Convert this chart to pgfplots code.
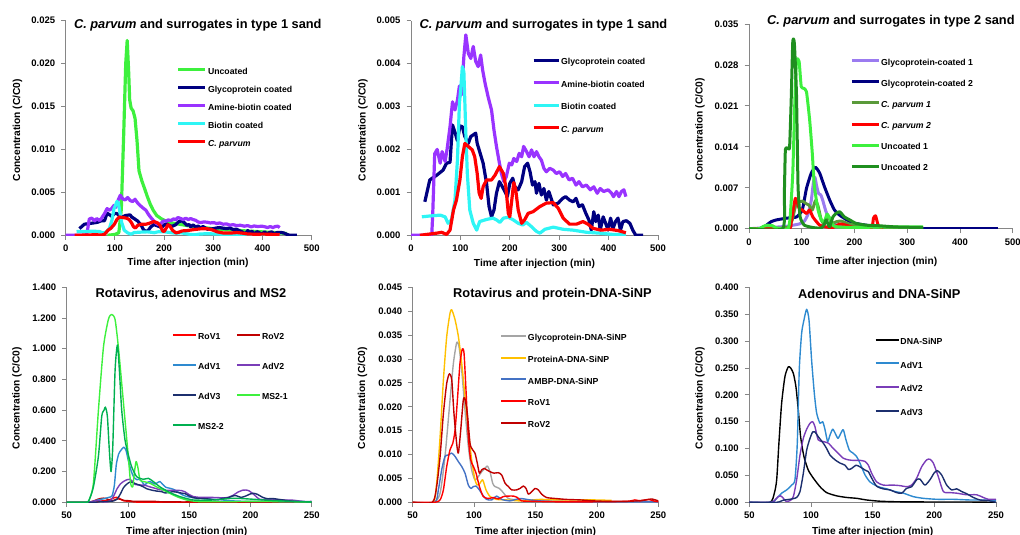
\documentclass[border=0pt]{standalone}
\usepackage{pgfplots}
\pgfplotsset{compat=1.18}
\usepackage{pgfplotstable}
\usepackage{fontspec}
\setmainfont{Liberation Sans}

\definecolor{axgray}{HTML}{868686}
\definecolor{ucgreen}{HTML}{3DF03D}
\definecolor{navy1}{HTML}{000080}
\definecolor{amine}{HTML}{9933FF}
\definecolor{biotin}{HTML}{2EF5F5}
\definecolor{lilac}{HTML}{9B7BF0}
\definecolor{olive1}{HTML}{5A9A3A}
\definecolor{dkgreen}{HTML}{1F8F1F}
\definecolor{rov2}{HTML}{C00000}
\definecolor{adv1}{HTML}{2E8AD0}
\definecolor{adv2}{HTML}{7A3DB8}
\definecolor{adv3}{HTML}{1C2F6E}
\definecolor{ms2two}{HTML}{00B050}
\definecolor{glygray}{HTML}{A5A5A5}
\definecolor{protA}{HTML}{FFC000}
\definecolor{ambp}{HTML}{4472C4}

% ---------- type 1 sand ----------
\pgfplotstableread{
t c
85 0
100 0.0001
108 0.0003
113 0.003
118 0.012
122 0.020
125 0.0227
128 0.019
130 0.0158
133 0.0148
137 0.0145
141 0.0136
145 0.011
149 0.0075
155 0.0063
160 0.0055
166 0.0045
172 0.0036
178 0.0029
185 0.0023
195 0.0019
210 0.0015
230 0.0013
250 0.0011
280 0.0009
310 0.0007
340 0.0006
370 0.0005
400 0.0004
430 0.0003
450 0.0002
}\uncoated
\pgfplotstableread{
t c
28 0.00078
38 0.00129
52 0.0014
65 0.00152
72 0.00168
79 0.0017
84 0.00257
89 0.0024
94 0.0022
99 0.00255
104 0.00253
109 0.0023
116 0.00214
121 0.0023
126 0.00234
131 0.00238
134 0.00214
139 0.00195
146 0.00168
153 0.00121
158 0.00067
163 0.00043
168 0.00059
173 0.00098
179 0.00125
185 0.00113
190 0.00102
195 0.0009
200 0.00121
206 0.00133
210 0.00113
217 0.00106
224 0.00125
230 0.0016
236 0.00168
241 0.00148
246 0.00117
251 0.00125
254 0.00098
259 0.00121
264 0.00094
269 0.00109
274 0.00082
279 0.00102
288 0.00071
298 0.00075
307 0.00086
313 0.0009
321 0.00082
328 0.00078
334 0.00086
340 0.00067
347 0.00071
354 0.00051
360 0.00036
365 0.00012
370 0.00055
374 0.00032
379 0.00047
383 0.00012
389 0.00043
394 0.00028
399 0.00012
404 0.0004
409 0.00016
414 0.00032
419 0.0004
424 0.00012
429 0.00032
436 0.00034
443 0.00028
449 0.00012
455 0
470 0
}\glyco
\pgfplotstableread{
t c
0 0
42 0
44 0.0005
48 0.0019
53 0.002
59 0.00168
63 0.00195
69 0.00172
73 0.002
79 0.00253
84 0.00311
89 0.00292
94 0.00315
98 0.00348
102 0.00327
107 0.00416
111 0.00467
116 0.00424
121 0.00412
126 0.0044
131 0.00405
136 0.00393
141 0.0042
145 0.00385
150 0.00354
156 0.00323
163 0.00292
168 0.00245
173 0.00207
179 0.00168
183 0.00144
188 0.00125
193 0.00137
199 0.00168
204 0.00164
208 0.00179
214 0.00172
219 0.00191
224 0.00183
228 0.00207
234 0.00195
239 0.00183
244 0.00199
249 0.00183
254 0.00195
259 0.00183
264 0.00175
269 0.00156
274 0.00148
281 0.00156
288 0.00152
294 0.00144
301 0.00148
307 0.00137
313 0.00144
320 0.00129
327 0.00133
334 0.00117
340 0.00125
347 0.00113
355 0.00117
363 0.00106
370 0.00113
377 0.00098
383 0.00109
390 0.00102
399 0.00106
406 0.00098
410 0.0009
416 0.00102
421 0.0009
426 0.00102
431 0.00106
435 0.0009
}\amine
\pgfplotstableread{
t c
22 0.00043
38 0.00045
59 0.00047
69 0.00043
75 0.00028
82 0.00036
89 0.00082
94 0.00175
98 0.00307
101 0.00346
104 0.00393
107 0.00381
111 0.00238
114 0.00144
119 0.00059
126 0.00028
133 0.00012
139 0.00032
153 0.00037
166 0.0004
173 0.00036
180 0.0003
187 0.0004
197 0.00042
207 0.00036
217 0.00028
226 0.00024
234 0.0003
244 0.0002
254 0.00009
261 0.00005
271 0.00014
288 0.00019
308 0.00014
328 0.00012
355 0.00007
382 0.00005
409 0.00002
435 0.00002
}\biotin
\pgfplotstableread{
t c
18 0
52 0.00005
62 0.00007
72 0.00002
79 0.00012
86 0.00059
92 0.00082
99 0.00129
104 0.00183
109 0.00214
116 0.00207
124 0.00199
129 0.00183
134 0.00144
138 0.00098
142 0.00086
146 0.00113
153 0.00129
163 0.00129
170 0.0014
179 0.0016
187 0.00144
192 0.00113
197 0.00051
200 0.00043
204 0.00082
208 0.00123
212 0.00106
217 0.00059
224 0.00028
230 0.00036
237 0.00051
247 0.00055
261 0.00067
274 0.00075
288 0.00076
298 0.00063
308 0.0004
321 0.00026
335 0.00026
348 0.00032
358 0.00026
369 0.00016
385 0.00012
402 0.00014
419 0.00011
435 0.00006
}\cparv

% ---------- type 2 sand ----------
\pgfplotstableread{
t c
0 0
40 0.0002
70 0.0004
95 0.0008
105 0.0013
112 0.0025
118 0.0048
122 0.0078
125 0.0088
128 0.0074
132 0.006
136 0.0058
140 0.0048
145 0.0032
150 0.002
158 0.001
170 0.0005
200 0.0003
240 0.0001
270 0
}\gcone
\pgfplotstableread{
t c
20 0
30 0.0004
42 0.0012
52 0.0015
71 0.0018
90 0.002
101 0.0032
109 0.0069
118 0.0095
126 0.0105
134 0.0095
143 0.0072
153 0.0049
162 0.0032
172 0.0023
184 0.0016
197 0.001
222 0.0006
247 0.0003
273 0.0001
300 0
472 0
}\gctwo
\pgfplotstableread{
t c
0 0
60 0.0001
75 0.0003
82 0.0015
88 0.0038
95 0.0046
102 0.0047
108 0.0043
114 0.004
120 0.0032
126 0.0048
131 0.0038
137 0.0015
143 0.0008
150 0.0022
156 0.0009
166 0.0012
175 0.0013
190 0.0008
210 0.0005
250 0.0002
300 0.0001
330 0.0001
}\cpone
\pgfplotstableread{
t c
0 0
75 0
80 0.0012
88 0.0052
95 0.0035
101 0.0032
109 0.0026
115 0.0032
121 0.002
128 0.0012
134 0.0006
146 0.0003
159 0.0002
172 0.0008
184 0.0006
203 0.0001
232 0.0001
236 0.0018
240 0.0022
245 0.0006
254 0
}\cptwo
\pgfplotstableread{
t c
0 0
20 0
27 0.0004
35 0.0006
45 0.0005
52 0.0001
74 0
78 0.002
83 0.0095
87 0.022
90 0.0288
95 0.0286
99 0.0243
104 0.024
109 0.0234
115 0.0186
120 0.0129
124 0.0072
131 0.0032
137 0.0015
143 0.0012
148 0.0025
153 0.0018
160 0.0005
170 0.0003
200 0.0002
260 0.0003
330 0.0003
}\ucone
\pgfplotstableread{
t c
0 0
64 0
67 0.006
69 0.0135
74 0.0137
77 0.014
80 0.022
83 0.032
86 0.0317
90 0.0231
93 0.0072
97 0.002
105 0.0006
121 0.0002
137 0.0001
143 0.0008
146 0.0015
150 0.0008
153 0.0003
159 0.002
165 0.0026
172 0.0029
181 0.002
191 0.0015
203 0.0009
222 0.0006
247 0.0005
279 0.0003
330 0.0002
}\uctwo

% ---------- viruses ----------
\pgfplotstableread{
t c
50 0
68 0
72.3 0.0005
75 0.0026
77.7 0.0075
80.4 0.011
82.6 0.0123
84.5 0.0151
86.4 0.0214
88.5 0.0291
90.4 0.0321
91.8 0.0312
93.4 0.0235
95.3 0.0137
97.2 0.0089
99.4 0.0075
101.6 0.0061
104.3 0.0033
107.5 0.0012
111.6 0.0008
115.7 0.001
119.7 0.0007
123.8 0.0012
127.9 0.0013
132 0.0013
135.2 0.001
138.7 0.0003
148.2 0.0002
167.2 0.0001
194.4 0.0001
224.2 0.0002
231 0.0005
235 0.0003
241.9 0.0006
246 0.0003
250 0.0001
}\rovone
\pgfplotstableread{
t c
50 0
66 0
69.5 0.0033
72.3 0.0096
75 0.0186
77.7 0.0249
79.9 0.0269
81.8 0.0256
83.6 0.0186
85.8 0.0123
87.2 0.0103
89.1 0.0151
91.2 0.0214
92.6 0.0216
94.5 0.0186
96.7 0.0123
98.8 0.011
100.7 0.0103
102.6 0.0082
104.3 0.0061
106.2 0.0068
108.1 0.0071
110.2 0.0068
113 0.0064
116.2 0.0061
119.7 0.0062
122.5 0.0057
125.2 0.004
127.9 0.0033
130.6 0.0026
134.7 0.0026
137.4 0.0029
140.1 0.0034
142.3 0.0029
144.2 0.0017
146.9 0.0022
149.6 0.0029
152.3 0.0026
155 0.0017
159 0.001
165.9 0.0008
175.4 0.0006
186.2 0.0005
197.1 0.0003
208 0.0002
224.2 0.0002
232.4 0.0003
240.5 0.0005
244.6 0.0007
250 0.0003
}\rovtwo
\pgfplotstableread{
t c
50 0
67 0
72.3 0.0019
76.3 0.0096
80.4 0.0214
83.1 0.029
85.8 0.0334
87.7 0.0326
89.9 0.0277
92.6 0.0193
95.3 0.0117
98 0.0068
100.7 0.0047
103.5 0.0054
106.2 0.0064
108.9 0.0071
110.8 0.0076
113 0.0064
115.1 0.004
117 0.0033
120.6 0.0029
123.8 0.002
127.9 0.0008
134.7 0.0005
145.5 0.0003
159 0.0003
180.8 0.0002
208 0.0001
250 0.0001
}\glysinp
\pgfplotstableread{
t c
50 0
66.5 0
69.5 0.004
72.3 0.0137
75 0.0256
77.7 0.0347
80.4 0.0396
81.8 0.0403
84.5 0.0382
87.2 0.0347
89.9 0.0291
92.6 0.0221
95.3 0.0151
98 0.0089
100.7 0.0047
102.6 0.0036
104.8 0.004
107 0.0047
109.7 0.0026
113 0.0012
118.4 0.0006
126.5 0.0005
137.4 0.0003
153.7 0.0006
167.2 0.0005
180.8 0.0005
197 0.0005
212 0.0004
}\protsinp
\pgfplotstableread{
t c
50 0
68 0
70.9 0.0026
73.6 0.0068
76.3 0.0096
79 0.0099
81.8 0.0103
84.5 0.0096
87.2 0.0085
89.9 0.0075
92.6 0.0061
95.3 0.0036
97.5 0.0029
99.4 0.0033
101.6 0.0034
104.3 0.0026
107 0.0015
110.2 0.0006
114.3 0.0005
118.4 0.0013
122.5 0.0006
129.2 0.0003
137.4 0.0008
145.5 0.0005
159 0.0002
180.8 0.0001
208 0.0001
250 0.0001
}\ambpsinp
\pgfplotstableread{
t c
50 0
66.8 0
70.3 0.017
72.2 0.042
74 0.11
76.2 0.184
78.9 0.234
81.6 0.252
83.5 0.25
85.7 0.24
87.8 0.215
89.7 0.172
91.6 0.122
94.3 0.085
97.8 0.06
101.9 0.045
107.3 0.029
112.7 0.018
120.8 0.012
128.9 0.009
137 0.0074
145.1 0.0043
156 0.002
169.5 0.001
196.5 0.0006
223.5 0.0006
250 0
}\dnasinp
\pgfplotstableread{
t c
50 0
68 0
72.2 0.0074
76.2 0.017
80.3 0.023
84.3 0.032
87 0.042
88.9 0.11
90.5 0.246
92.4 0.314
94.3 0.339
96.5 0.359
98.4 0.339
100.5 0.265
102.7 0.203
104.6 0.166
107.3 0.147
109.5 0.15
111.4 0.135
113.5 0.113
115.4 0.125
117.6 0.136
119.7 0.128
121.9 0.119
124.1 0.128
126.2 0.135
128.4 0.116
131.1 0.097
133.8 0.092
137 0.085
139.7 0.073
143.8 0.051
147.8 0.038
151.9 0.032
155.9 0.028
161.4 0.025
168.1 0.02
174.9 0.017
183 0.0105
191.1 0.0074
201.9 0.0056
215.4 0.0056
228.9 0.0043
239.7 0.0043
250 0.003
}\advone
\pgfplotstableread{
t c
50 0
68 0
70.8 0.0043
73.5 0.0105
75.4 0.012
77.6 0.0074
79.7 0.002
83 0.003
85.7 0.0105
88.4 0.042
91.1 0.088
93.8 0.119
96.5 0.136
99.2 0.147
101.4 0.15
103.2 0.141
105.9 0.116
110 0.113
114.1 0.11
118.1 0.1
122.2 0.091
126.2 0.082
130.3 0.079
134.3 0.078
139.7 0.078
143.8 0.076
146.5 0.069
149.2 0.054
153.2 0.038
158.6 0.032
166.8 0.032
172.2 0.031
177.6 0.029
181.6 0.032
185.7 0.045
189.7 0.066
193.8 0.079
196.5 0.08
199.2 0.073
203.2 0.048
207.3 0.02
212.7 0.018
218.1 0.017
226.2 0.014
234.3 0.014
239.7 0.009
243.8 0.0056
250 0.0056
}\advtwo
\pgfplotstableread{
t c
50 0
72 0
77.6 0.004
83 0.0056
88.4 0.009
91.1 0.02
93.8 0.054
96.5 0.097
99.2 0.119
101.4 0.131
103.2 0.131
105.9 0.122
110 0.11
112.7 0.1
115.4 0.088
119.5 0.079
123.5 0.073
127.6 0.069
130.3 0.061
133 0.063
136.5 0.069
139.7 0.066
143.8 0.06
146.5 0.057
149.2 0.045
153.2 0.03
158.6 0.025
164.1 0.023
169.5 0.018
173.5 0.017
177.6 0.026
181.6 0.029
185.7 0.042
188.4 0.043
192.4 0.032
196.5 0.042
199.7 0.054
202.4 0.059
205.9 0.051
210 0.032
214.1 0.023
218.1 0.025
222.2 0.02
226.2 0.016
231.6 0.009
237 0.0043
243.8 0.003
250 0
}\advthree
\pgfplotstableread{
t c
50 0
65 0
68 0.01
71.8 0.124
75.9 0.6
80 1.01
84 1.19
86.7 1.224
89.5 1.19
92.2 1.01
94.9 0.775
97.6 0.536
100.3 0.297
102.2 0.124
103.9 0.1
105.2 0.19
106.6 0.265
108 0.232
109.9 0.145
113 0.135
118 0.124
123.5 0.1
131.6 0.069
139.8 0.037
148 0.015
158.8 0.004
180.6 0.004
202 0.006
227 0.004
250 0.002
}\msone
\pgfplotstableread{
t c
50 0
65 0
68 0.01
71.8 0.1
75.9 0.3
78.6 0.56
80.5 0.6
81.6 0.62
83.2 0.56
84.8 0.34
86.2 0.2
87.6 0.36
89.5 0.86
91.4 1.024
93 0.86
94.9 0.6
97.6 0.406
100.3 0.31
103 0.232
107.1 0.167
112.6 0.15
116.7 0.156
120.7 0.135
126.2 0.1
134.4 0.063
142.5 0.037
153.4 0.015
169.7 0.015
186 0.026
202 0.02
218.7 0.011
250 0.002
}\mstwo

\pgfplotsset{
  panel/.style={
    scale only axis, axis lines*=left,
    axis line style={draw=axgray, line width=0.8pt},
    tick align=outside, major tick length=4.5pt,
    tick style={draw=axgray, line width=0.8pt},
    enlargelimits=false, clip=true,
    scaled y ticks=false, scaled x ticks=false,
    /pgf/number format/assume math mode=true,
    tick label style={font=\bfseries\fontsize{9.5}{11}\selectfont},
    yticklabel style={/pgf/number format/.cd, fixed, fixed zerofill, precision=3, /tikz/.cd, xshift=-2.5pt},
    xticklabel style={yshift=-2pt},
    label style={font=\bfseries\fontsize{10.2}{12}\selectfont},
    xlabel={Time after injection (min)}, ylabel={Concentration (C/C0)},
    title style={font=\bfseries\fontsize{12.8}{15}\selectfont, anchor=center, yshift=-6pt},
    legend cell align=left,
    legend style={draw=none, fill=none, anchor=north west, inner sep=0pt,
      font=\bfseries\fontsize{8.7}{10}\selectfont,
      cells={anchor=west},
      nodes={inner xsep=1pt, inner ysep=0pt, text height=6.5pt, text depth=2pt}},
    every axis plot/.append style={line join=round},
  },
  thickp/.style={every axis plot/.append style={line width=3.2pt}},
  thinp/.style={every axis plot/.append style={line width=1.4pt, smooth, tension=0.4}},
}

\begin{document}
\begin{tikzpicture}
\useasboundingbox (0pt,0pt) rectangle (1020pt,535pt);

% ---- Panel 1 ----
\begin{axis}[panel, thickp, at={(65.7pt,299.7pt)}, anchor=south west,
  width=246pt, height=214.6pt,
  xmin=0, xmax=500, ymin=0, ymax=0.025,
  xtick={0,100,200,300,400,500}, ytick={0,0.005,0.01,0.015,0.02,0.025},
  title={\textit{C. parvum} and surrogates in type 1 sand},
  title style={at={(axis description cs:0.537,0.98)}},
  xlabel style={at={(axis description cs:0.497,0)}, anchor=center, yshift=-28pt},
  ylabel style={at={(axis description cs:-0.196,0.49)}, anchor=center},
  legend image code/.code={\draw[#1] (0pt,2.5pt) -- (27pt,2.5pt);},
  legend style={at={(axis description cs:0.451,0.78)}, row sep=9.5pt},
]
\addplot[ucgreen] table {\uncoated}; \addlegendentry{Uncoated}
\addplot[navy1] table {\glyco}; \addlegendentry{Glycoprotein coated}
\addplot[amine] table {\amine}; \addlegendentry{Amine-biotin coated}
\addplot[biotin] table {\biotin}; \addlegendentry{Biotin coated}
\addplot[red] table {\cparv}; \addlegendentry{\textit{C. parvum}}
\end{axis}

% ---- Panel 2 ----
\begin{axis}[panel, thickp, at={(411pt,299.7pt)}, anchor=south west,
  width=247pt, height=214.6pt,
  xmin=0, xmax=500, ymin=0, ymax=0.005,
  xtick={0,100,200,300,400,500}, ytick={0,0.001,0.002,0.003,0.004,0.005},
  title={\textit{C. parvum} and surrogates in type 1 sand},
  title style={at={(axis description cs:0.536,0.98)}},
  xlabel style={at={(axis description cs:0.5,0)}, anchor=center, yshift=-29pt},
  ylabel style={at={(axis description cs:-0.194,0.49)}, anchor=center},
  legend image code/.code={\draw[#1] (0pt,2.5pt) -- (25pt,2.5pt);},
  legend style={at={(axis description cs:0.489,0.825)}, row sep=14pt},
]
\addplot[navy1] table {\glyco}; \addlegendentry{Glycoprotein coated}
\addplot[amine] table {\amine}; \addlegendentry{Amine-biotin coated}
\addplot[biotin] table {\biotin}; \addlegendentry{Biotin coated}
\addplot[red] table {\cparv}; \addlegendentry{\textit{C. parvum}}
\end{axis}

% ---- Panel 3 ----
\begin{axis}[panel, at={(749pt,306.3pt)}, anchor=south west,
  every axis plot/.append style={line width=3pt, smooth, tension=0.3},
  width=263.7pt, height=204.7pt,
  xmin=0, xmax=500, ymin=0, ymax=0.035,
  xtick={0,100,200,300,400,500}, ytick={0,0.007,0.014,0.021,0.028,0.035},
  title={\textit{C. parvum} and surrogates in type 2 sand},
  title style={at={(axis description cs:0.538,1.013)}},
  xlabel style={at={(axis description cs:0.484,0)}, anchor=center, yshift=-33pt},
  ylabel style={at={(axis description cs:-0.186,0.487)}, anchor=center},
  legend image code/.code={\draw[#1] (0pt,2.5pt) -- (26.7pt,2.5pt);},
  legend style={at={(axis description cs:0.384,0.83)}, row sep=12.6pt},
]
\addplot[lilac] table {\gcone}; \addlegendentry{Glycoprotein-coated 1}
\addplot[navy1] table {\gctwo}; \addlegendentry{Glycoprotein-coated 2}
\addplot[olive1] table {\cpone}; \addlegendentry{\textit{C. parvum 1}}
\addplot[red] table {\cptwo}; \addlegendentry{\textit{C. parvum 2}}
\addplot[ucgreen] table {\ucone}; \addlegendentry{Uncoated 1}
\addplot[dkgreen] table {\uctwo}; \addlegendentry{Uncoated 2}
\end{axis}

% ---- Panel 4 ----
\begin{axis}[panel, thinp, at={(66.7pt,32.7pt)}, anchor=south west,
  width=245pt, height=215pt,
  xmin=50, xmax=250, ymin=0, ymax=1.4,
  xtick={50,100,150,200,250}, ytick={0,0.2,0.4,0.6,0.8,1.0,1.2,1.4},
  title={Rotavirus, adenovirus and MS2},
  title style={at={(axis description cs:0.507,0.969)}},
  xlabel style={at={(axis description cs:0.49,0)}, anchor=center, yshift=-29.4pt},
  ylabel style={at={(axis description cs:-0.203,0.484)}, anchor=center},
  legend columns=2,
  legend image code/.code={\draw[#1, line width=1.9pt] (0pt,2.5pt) -- (23.3pt,2.5pt);},
  legend style={at={(axis description cs:0.429,0.787)}, row sep=21.5pt,
    /tikz/every even column/.append style={column sep=11pt}},
]
\addplot[red] table {\rovone}; \addlegendentry{RoV1}
\addplot[rov2] table {\rovtwo}; \addlegendentry{RoV2}
\addplot[adv1] table {\advone}; \addlegendentry{AdV1}
\addplot[adv2] table {\advtwo}; \addlegendentry{AdV2}
\addplot[adv3] table {\advthree}; \addlegendentry{AdV3}
\addplot[ucgreen] table {\msone}; \addlegendentry{MS2-1}
\addplot[ms2two] table {\mstwo}; \addlegendentry{MS2-2}
\end{axis}

% ---- Panel 5 ----
\begin{axis}[panel, thinp, at={(412.7pt,32.7pt)}, anchor=south west,
  width=245.6pt, height=215pt,
  xmin=50, xmax=250, ymin=0, ymax=0.045,
  xtick={50,100,150,200,250}, ytick={0,0.005,0.01,0.015,0.02,0.025,0.03,0.035,0.04,0.045},
  title={Rotavirus and protein-DNA-SiNP},
  title style={at={(axis description cs:0.569,0.969)}},
  xlabel style={at={(axis description cs:0.5,0)}, anchor=center, yshift=-29.4pt},
  ylabel style={at={(axis description cs:-0.204,0.484)}, anchor=center},
  legend image code/.code={\draw[#1, line width=1.9pt] (0pt,2.5pt) -- (25pt,2.5pt);},
  legend style={at={(axis description cs:0.355,0.783)}, row sep=13.2pt},
]
\addplot[glygray] table {\glysinp}; \addlegendentry{Glycoprotein-DNA-SiNP}
\addplot[protA] table {\protsinp}; \addlegendentry{ProteinA-DNA-SiNP}
\addplot[ambp] table {\ambpsinp}; \addlegendentry{AMBP-DNA-SiNP}
\addplot[red] table {\rovone}; \addlegendentry{RoV1}
\addplot[rov2] table {\rovtwo}; \addlegendentry{RoV2}
\end{axis}

% ---- Panel 6 ----
\begin{axis}[panel, thinp, at={(749.3pt,32.7pt)}, anchor=south west,
  width=246.7pt, height=215pt,
  xmin=50, xmax=250, ymin=0, ymax=0.4,
  xtick={50,100,150,200,250}, ytick={0,0.05,0.1,0.15,0.2,0.25,0.3,0.35,0.4},
  title={Adenovirus and DNA-SiNP},
  title style={at={(axis description cs:0.527,0.969)}},
  xlabel style={at={(axis description cs:0.5,0)}, anchor=center, yshift=-29.4pt},
  ylabel style={at={(axis description cs:-0.2,0.484)}, anchor=center},
  legend image code/.code={\draw[#1, line width=1.9pt] (0pt,2.5pt) -- (23pt,2.5pt);},
  legend style={at={(axis description cs:0.507,0.766)}, row sep=15.3pt},
]
\addplot[black] table {\dnasinp}; \addlegendentry{DNA-SiNP}
\addplot[adv1] table {\advone}; \addlegendentry{AdV1}
\addplot[adv2] table {\advtwo}; \addlegendentry{AdV2}
\addplot[adv3] table {\advthree}; \addlegendentry{AdV3}
\end{axis}
\end{tikzpicture}
\end{document}
